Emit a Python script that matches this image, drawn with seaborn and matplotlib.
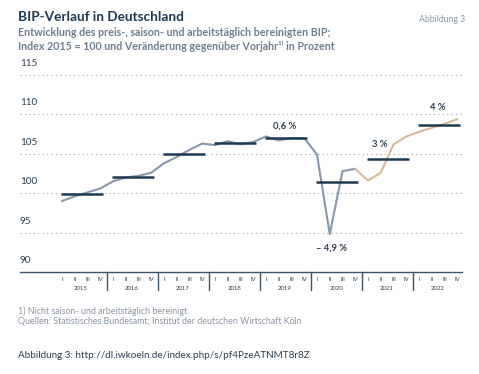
import numpy as np
import pandas as pd
import seaborn as sns
import matplotlib.pyplot as plt
from matplotlib.transforms import blended_transform_factory

# Quartalswerte, Index 2015 = 100
years = [2015, 2016, 2017, 2018, 2019, 2020, 2021, 2022]
quarters = ['I', 'II', 'III', 'IV']
bip_ist = [99.0, 99.6, 100.1, 100.6,
           101.5, 102.0, 102.2, 102.6,
           103.8, 104.6, 105.5, 106.3,
           106.1, 106.6, 106.2, 106.5,
           107.2, 106.7, 107.0, 107.0,
           104.9, 94.8, 102.8, 103.1]
bip_prognose = [103.1,
                101.6, 102.6, 106.2, 107.2,
                107.8, 108.3, 108.8, 109.4]
jahresmittel = [99.9, 102.0, 105.0, 106.4, 107.0, 101.4, 104.4, 108.6]
veraenderung = {2019: '0,6 %', 2020: '– 4,9 %', 2021: '3 %', 2022: '4 %'}

navy = '#1d3a52'
grau = '#8797ab'
beige = '#d6bc94'
textgrau = '#6e7f90'

sns.set_theme(style='white')
plt.rcParams['font.family'] = ['Lato', 'DejaVu Sans']

n_ist = len(bip_ist)
df_ist = pd.DataFrame({'q': np.arange(n_ist), 'wert': bip_ist})
df_prog = pd.DataFrame({'q': np.arange(n_ist - 1, n_ist - 1 + len(bip_prognose)),
                        'wert': bip_prognose})

fig = plt.figure(figsize=(4.79, 3.74), dpi=100)
ax = fig.add_axes([20/479, 1-272/374, 442/479, 197/374])

sns.lineplot(data=df_ist, x='q', y='wert', color=grau, lw=1.5, ax=ax)
sns.lineplot(data=df_prog, x='q', y='wert', color=beige, lw=1.5, ax=ax)

for i, m in enumerate(jahresmittel):
    ax.plot([4*i - 0.1, 4*i + 3.2], [m, m], color=navy, lw=1.8, solid_capstyle='butt')

ax.set_xlim(-3.29, 31.37)
ax.set_ylim(90, 115)

# Gitterlinien + y-Beschriftung
for v in [95, 100, 105, 110, 115]:
    ax.axhline(v, color='#9aa3ad', lw=0.8, ls=(0, (1, 3)), zorder=0)
ylab = blended_transform_factory(ax.transAxes, ax.transData)
for v in [90, 95, 100, 105, 110, 115]:
    ax.text(0.0, v + 0.9, str(v), transform=ylab, fontsize=7.2, color='#2c3e50',
            ha='left', va='bottom')

for s in ['top', 'right', 'left']:
    ax.spines[s].set_visible(False)
ax.spines['bottom'].set_color('#3d5468')
ax.spines['bottom'].set_linewidth(1.0)

ax.set_yticks([])
ax.set_xticks(np.arange(32))
ax.set_xticklabels(quarters * len(years), fontsize=4.3, color='#2c3e50')
ax.tick_params(axis='x', length=0, pad=3.5)
ax.set_xlabel('')
ax.set_ylabel('')

xt = blended_transform_factory(ax.transData, ax.transAxes)
for i, y in enumerate(years):
    ax.text(4*i + 1.5, -0.085, str(y), transform=xt, fontsize=4.3, color='#2c3e50',
            ha='center', va='center')
    if i > 0:
        ax.plot([4*i - 0.5, 4*i - 0.5], [0, -0.092], transform=xt, color='#3d5468',
                lw=1.0, clip_on=False)

# Veränderungsraten
lab = {2019: (17.5, 108.0, 'bottom'), 2020: (21.1, 93.6, 'top'),
       2021: (24.9, 105.6, 'bottom'), 2022: (29.5, 110.3, 'bottom')}
for y, txt in veraenderung.items():
    x, yy, va = lab[y]
    ax.text(x, yy, txt, fontsize=6.8, color='#2c3e50', fontweight='bold',
            ha='center', va=va)

# Titel und Texte
fig.text(18/479, 1-17/374, 'BIP-Verlauf in Deutschland', fontsize=9.8,
         fontweight='bold', color=navy, va='center')
fig.text(465/479, 1-19/374, 'Abbildung 3', fontsize=6.2, color='#8a96a3',
         ha='right', va='center')
fig.text(18/479, 1-33/374, 'Entwicklung des preis-, saison- und arbeitstäglich bereinigten BIP;',
         fontsize=7.7, fontweight='bold', color=textgrau, va='center')
fig.text(18/479, 1-46/374, 'Index 2015 = 100 und Veränderung gegenüber Vorjahr¹⁾ in Prozent',
         fontsize=7.7, fontweight='bold', color=textgrau, va='center')
fig.text(18/479, 1-311/374, '1) Nicht saison- und arbeitstäglich bereinigt.',
         fontsize=6.4, color='#8a96a3', va='center')
fig.text(18/479, 1-322/374, 'Quellen: Statistisches Bundesamt; Institut der deutschen Wirtschaft Köln',
         fontsize=6.4, color='#8a96a3', va='center')
fig.text(18/479, 1-356/374, 'Abbildung 3: http://dl.iwkoeln.de/index.php/s/pf4PzeATNMT8r8Z',
         fontsize=7.1, color='#2c3e50', va='center')

fig.savefig('out.png', dpi=100)
